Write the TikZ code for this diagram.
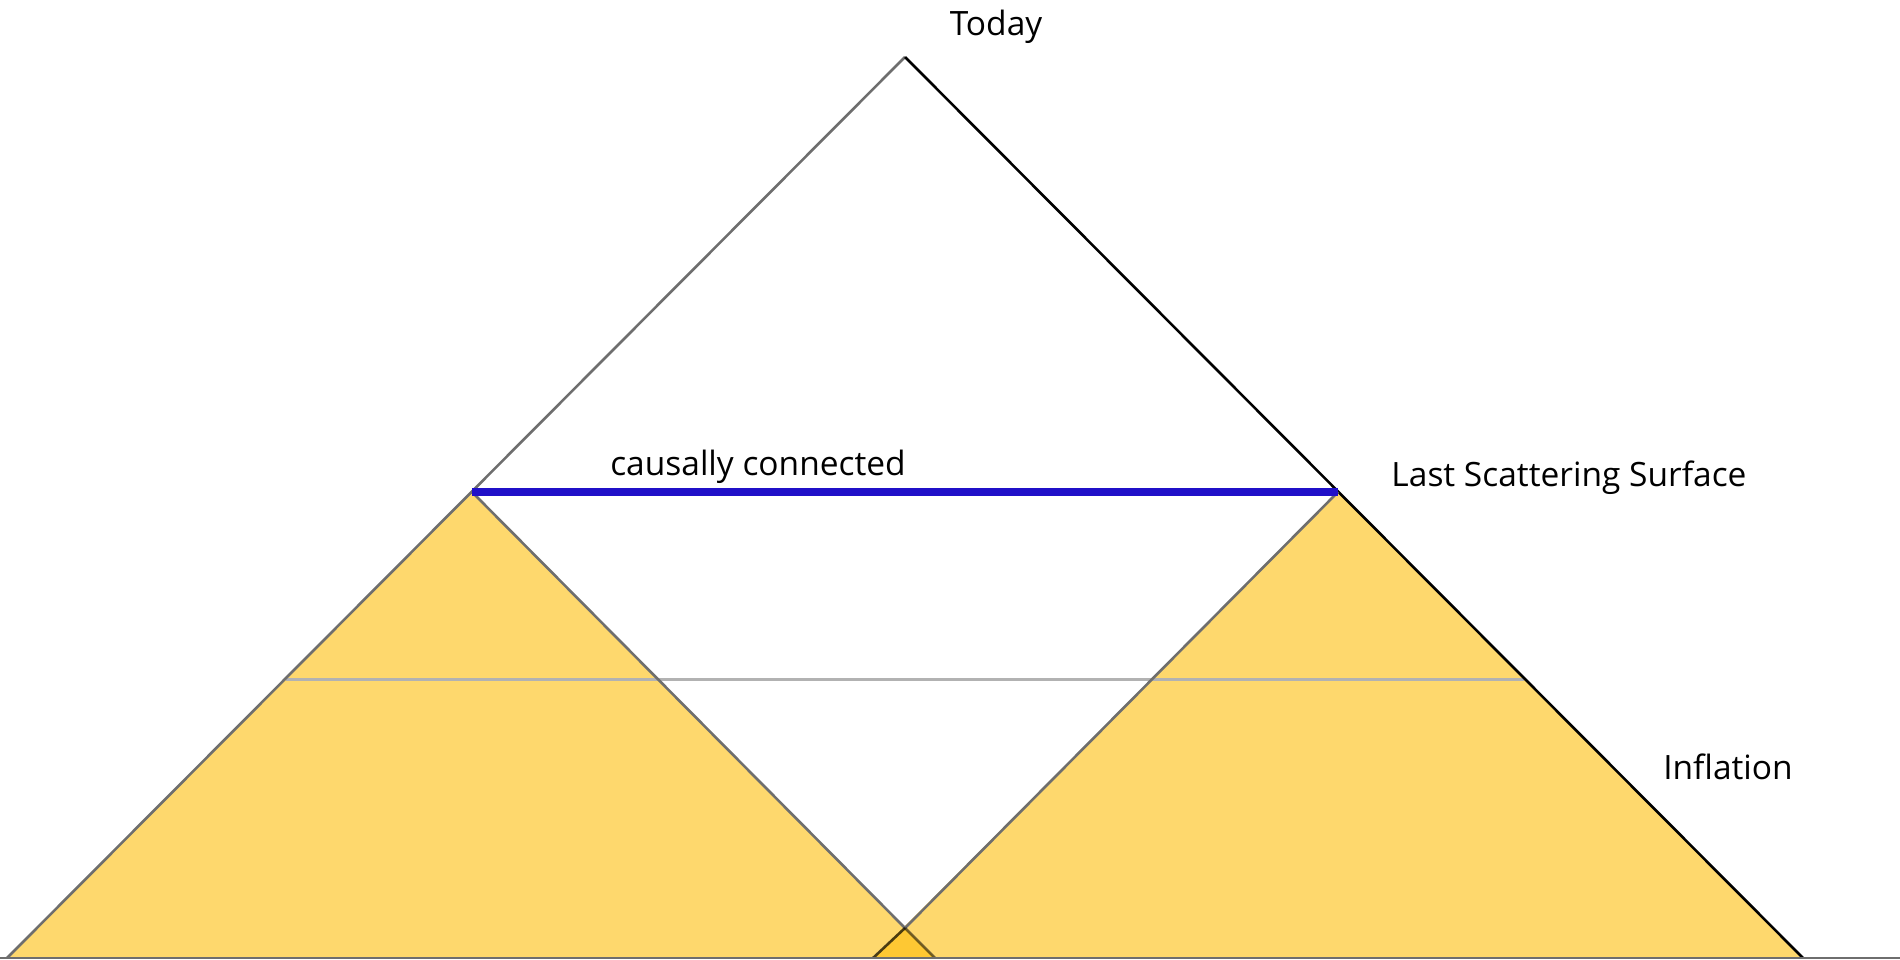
\documentclass[tikz,border=0pt]{standalone}
\usepackage{fontspec}
\setmainfont{Open Sans}
\definecolor{conefill}{RGB}{254,190,12}
\definecolor{edgegray}{RGB}{110,110,110}
\definecolor{midgray}{RGB}{178,178,178}
\definecolor{causal}{RGB}{32,16,200}
\begin{document}
\begin{tikzpicture}[x=1pt,y=-1pt,
  edge/.style={draw=edgegray, line width=2.6pt},
  cone/.style={fill=conefill, fill opacity=0.6},
  lbl/.style={font=\fontsize{33.5}{38}\selectfont, inner sep=0pt, anchor=center}]
\useasboundingbox (0,0) rectangle (1900,960);
\coordinate (T) at (905,57);
\coordinate (BL) at (7,958);
\coordinate (BR) at (1803,958);
\coordinate (A) at (472,492);
\coordinate (B) at (1338,492);
\coordinate (AF) at (935,958);
\coordinate (BF) at (873,958);
\coordinate (X) at (905,928);
\coordinate (G1) at (286,679);
\coordinate (G2) at (1524,679);
\coordinate (Z0) at (0,958);
\coordinate (Z1) at (1900,958);
% cones
\fill[cone] (BL) -- (A) -- (AF) -- cycle;
\fill[cone] (BF) -- (B) -- (BR) -- cycle;
% grey horizontal
\draw[draw=midgray, line width=3pt] (G1) -- (G2);
% edges
\draw[edge] (BL) -- (T);
\draw[draw=black, line width=2.6pt] (T) -- (BR);
\draw[edge] (A) -- (X);
\draw[edge] (B) -- (X);
\draw[draw=black, draw opacity=0.55, line width=2.6pt] (X) -- (AF);
\draw[draw=black, draw opacity=0.7, line width=2.6pt] (X) -- (BF);
\draw[draw=edgegray, line width=2pt] (Z0) -- (Z1);
% causal line
\draw[draw=causal, line width=8.5pt] (A) -- (B);
% labels
\node[lbl] (today) at (996,27) {Today};
\node[lbl] (cc) at (758,467) {causally connected};
\node[lbl] (lss) at (1569,478) {Last Scattering Surface};
\node[lbl] (infl) at (1728,767) {Inflation};
\end{tikzpicture}
\end{document}
